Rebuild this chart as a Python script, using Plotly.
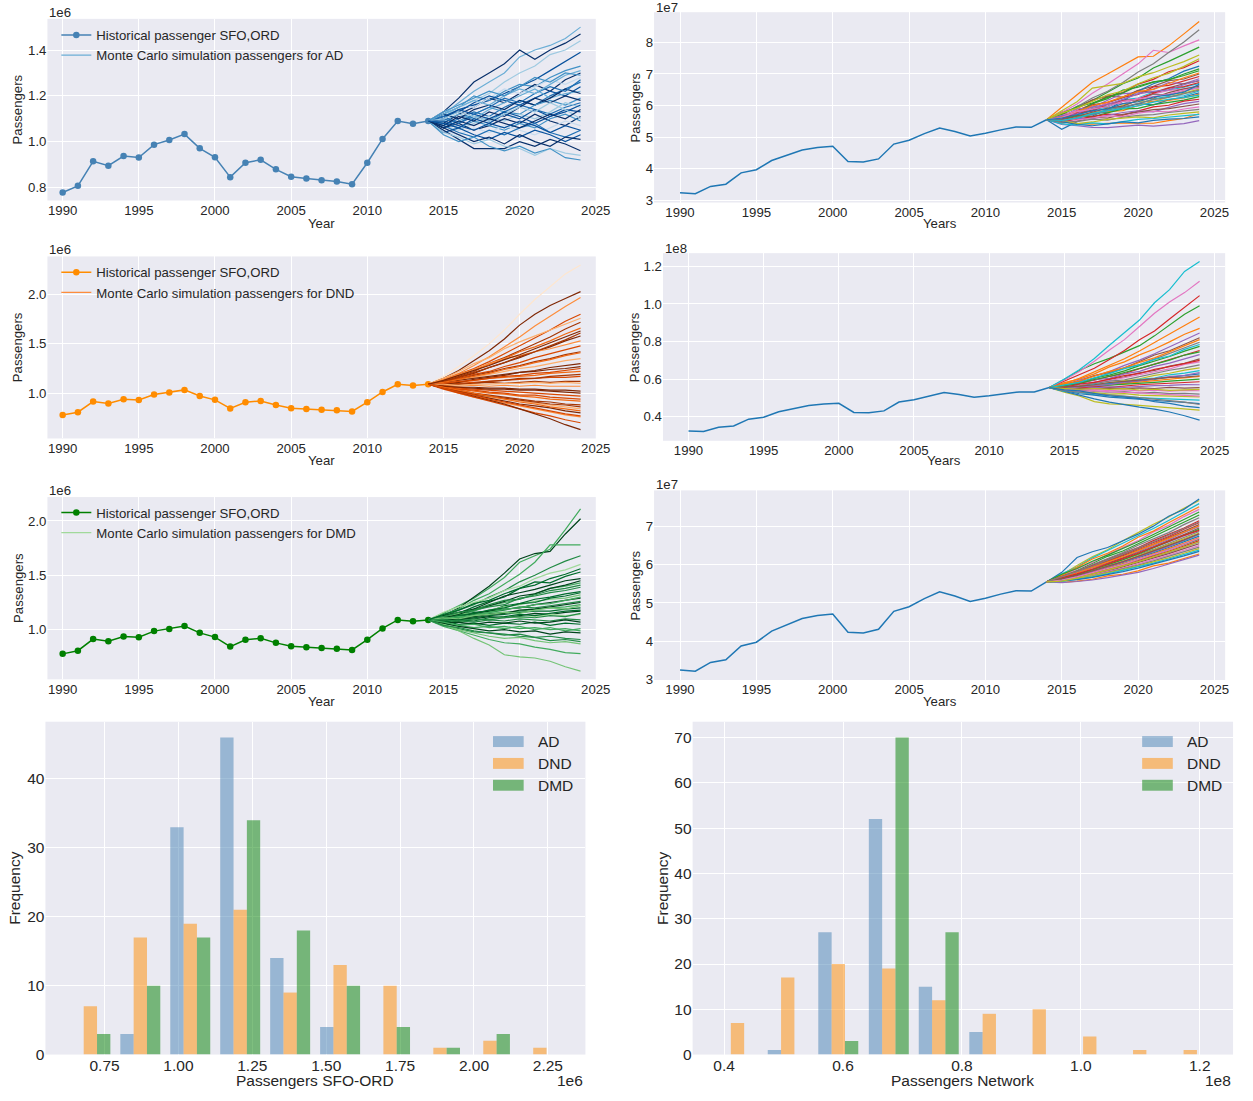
import plotly.graph_objects as go

W, H = 1253, 1101
TXT = "#262626"
FONT = "Liberation Sans, Arial, sans-serif"

# ---------------- data (passengers in millions) ----------------
years_hist = list(range(1990, 2015))
years_sim = list(range(2015, 2025))
year_ticks = [1990, 1995, 2000, 2005, 2010, 2015, 2020, 2025]

sfo_ord_hist = [0.778, 0.807, 0.914, 0.895, 0.937, 0.931, 0.987, 1.007, 1.033, 0.971,
                0.932, 0.845, 0.908, 0.921, 0.879, 0.847, 0.839, 0.832, 0.826, 0.814,
                0.908, 1.012, 1.090, 1.078, 1.090]
network_hist = [32.4, 32.1, 34.4, 35.1, 38.7, 39.7, 42.6, 44.3, 45.9, 46.7,
                47.1, 42.3, 42.1, 43.1, 47.8, 49.0, 51.1, 52.9, 51.8, 50.4,
                51.2, 52.3, 53.2, 53.1, 55.5]

sims_ad_sfo = [
    [1.12, 1.17, 1.22, 1.26, 1.30, 1.37, 1.40, 1.42, 1.45, 1.50],
    [1.13, 1.19, 1.26, 1.30, 1.34, 1.40, 1.36, 1.40, 1.43, 1.47],
    [1.11, 1.15, 1.18, 1.21, 1.26, 1.30, 1.33, 1.38, 1.40, 1.44],
    [1.10, 1.14, 1.16, 1.18, 1.21, 1.24, 1.27, 1.31, 1.35, 1.39],
    [1.12, 1.15, 1.20, 1.18, 1.22, 1.25, 1.24, 1.28, 1.31, 1.33],
    [1.08, 1.12, 1.15, 1.19, 1.17, 1.21, 1.25, 1.22, 1.27, 1.30],
    [1.13, 1.16, 1.15, 1.19, 1.23, 1.21, 1.24, 1.27, 1.25, 1.28],
    [1.07, 1.10, 1.13, 1.11, 1.15, 1.18, 1.16, 1.20, 1.23, 1.26],
    [1.11, 1.13, 1.17, 1.20, 1.18, 1.16, 1.19, 1.22, 1.20, 1.24],
    [1.09, 1.12, 1.10, 1.14, 1.17, 1.20, 1.23, 1.19, 1.21, 1.22],
    [1.12, 1.10, 1.14, 1.16, 1.14, 1.18, 1.16, 1.19, 1.23, 1.21],
    [1.06, 1.09, 1.12, 1.15, 1.13, 1.12, 1.16, 1.18, 1.16, 1.19],
    [1.10, 1.08, 1.11, 1.09, 1.13, 1.16, 1.14, 1.12, 1.15, 1.17],
    [1.07, 1.05, 1.08, 1.11, 1.09, 1.12, 1.10, 1.13, 1.17, 1.15],
    [1.11, 1.14, 1.12, 1.10, 1.13, 1.11, 1.08, 1.11, 1.14, 1.13],
    [1.06, 1.08, 1.05, 1.07, 1.10, 1.08, 1.12, 1.09, 1.07, 1.11],
    [1.08, 1.06, 1.09, 1.07, 1.05, 1.08, 1.06, 1.10, 1.12, 1.09],
    [1.05, 1.03, 1.06, 1.04, 1.07, 1.05, 1.03, 1.06, 1.09, 1.07],
    [1.07, 1.04, 1.02, 1.05, 1.03, 1.06, 1.08, 1.04, 1.02, 1.05],
    [1.04, 1.06, 1.03, 1.01, 1.04, 1.02, 1.05, 1.03, 1.00, 1.03],
    [1.06, 1.03, 1.00, 1.02, 0.99, 1.03, 1.00, 0.98, 1.02, 1.01],
    [1.05, 1.01, 0.97, 0.97, 0.97, 1.00, 0.98, 1.01, 0.99, 0.96],
    [1.04, 1.02, 0.99, 1.01, 0.98, 0.97, 0.94, 0.97, 0.95, 0.94],
    [1.03, 1.00, 1.02, 0.98, 0.96, 0.98, 0.95, 0.97, 0.93, 0.92],
    [1.11, 1.08, 1.12, 1.15, 1.19, 1.17, 1.21, 1.24, 1.22, 1.27],
    [1.07, 1.11, 1.09, 1.13, 1.11, 1.15, 1.19, 1.17, 1.20, 1.18],
    [1.12, 1.15, 1.18, 1.16, 1.20, 1.23, 1.21, 1.25, 1.29, 1.31],
    [1.08, 1.06, 1.10, 1.08, 1.12, 1.10, 1.14, 1.11, 1.13, 1.16],
    [1.10, 1.13, 1.11, 1.09, 1.12, 1.15, 1.13, 1.17, 1.14, 1.10],
    [1.06, 1.09, 1.07, 1.10, 1.08, 1.06, 1.09, 1.12, 1.10, 1.14],
    [1.13, 1.16, 1.19, 1.22, 1.20, 1.24, 1.28, 1.26, 1.30, 1.29],
    [1.09, 1.07, 1.05, 1.08, 1.06, 1.09, 1.07, 1.04, 1.07, 1.05],
]

sims_dnd_sfo = [
    [1.17, 1.27, 1.38, 1.50, 1.64, 1.80, 1.95, 2.08, 2.21, 2.30],
    [1.15, 1.23, 1.33, 1.43, 1.55, 1.69, 1.80, 1.89, 1.96, 2.03],
    [1.14, 1.20, 1.28, 1.37, 1.47, 1.57, 1.68, 1.78, 1.88, 1.97],
    [1.13, 1.19, 1.25, 1.32, 1.40, 1.48, 1.56, 1.64, 1.73, 1.80],
    [1.15, 1.22, 1.30, 1.36, 1.45, 1.52, 1.58, 1.64, 1.70, 1.76],
    [1.12, 1.17, 1.22, 1.30, 1.36, 1.43, 1.50, 1.57, 1.65, 1.72],
    [1.13, 1.18, 1.24, 1.29, 1.35, 1.42, 1.47, 1.53, 1.60, 1.66],
    [1.11, 1.16, 1.20, 1.26, 1.31, 1.36, 1.42, 1.47, 1.53, 1.58],
    [1.14, 1.19, 1.24, 1.30, 1.35, 1.38, 1.42, 1.45, 1.49, 1.53],
    [1.12, 1.15, 1.19, 1.22, 1.27, 1.31, 1.36, 1.40, 1.44, 1.48],
    [1.11, 1.14, 1.18, 1.21, 1.25, 1.28, 1.32, 1.35, 1.39, 1.42],
    [1.10, 1.13, 1.16, 1.19, 1.22, 1.25, 1.27, 1.30, 1.33, 1.35],
    [1.11, 1.13, 1.15, 1.17, 1.19, 1.21, 1.22, 1.24, 1.25, 1.27],
    [1.10, 1.11, 1.13, 1.15, 1.16, 1.17, 1.18, 1.20, 1.21, 1.22],
    [1.08, 1.10, 1.11, 1.12, 1.13, 1.14, 1.15, 1.16, 1.16, 1.17],
    [1.10, 1.09, 1.10, 1.11, 1.10, 1.11, 1.12, 1.11, 1.12, 1.12],
    [1.08, 1.07, 1.08, 1.07, 1.08, 1.07, 1.08, 1.07, 1.07, 1.07],
    [1.07, 1.06, 1.06, 1.05, 1.05, 1.04, 1.04, 1.03, 1.03, 1.02],
    [1.07, 1.05, 1.04, 1.03, 1.02, 1.01, 1.00, 0.99, 0.98, 0.97],
    [1.06, 1.04, 1.02, 1.00, 0.99, 0.97, 0.96, 0.94, 0.93, 0.92],
    [1.06, 1.03, 1.00, 0.98, 0.96, 0.94, 0.92, 0.91, 0.89, 0.88],
    [1.05, 1.02, 0.99, 0.96, 0.94, 0.92, 0.90, 0.88, 0.86, 0.84],
    [1.06, 1.02, 0.98, 0.95, 0.92, 0.89, 0.87, 0.85, 0.82, 0.80],
    [1.05, 1.00, 0.96, 0.93, 0.90, 0.87, 0.84, 0.81, 0.78, 0.76],
    [1.04, 1.00, 0.96, 0.92, 0.88, 0.84, 0.80, 0.77, 0.73, 0.70],
    [1.05, 1.01, 0.97, 0.93, 0.89, 0.84, 0.79, 0.74, 0.68, 0.63],
    [1.12, 1.16, 1.21, 1.26, 1.31, 1.37, 1.42, 1.48, 1.54, 1.61],
    [1.11, 1.14, 1.17, 1.20, 1.24, 1.27, 1.31, 1.34, 1.38, 1.41],
    [1.09, 1.11, 1.14, 1.16, 1.18, 1.21, 1.23, 1.26, 1.28, 1.30],
    [1.10, 1.12, 1.13, 1.15, 1.17, 1.18, 1.20, 1.21, 1.23, 1.25],
    [1.08, 1.09, 1.10, 1.12, 1.13, 1.15, 1.15, 1.17, 1.18, 1.19],
    [1.09, 1.08, 1.09, 1.09, 1.10, 1.10, 1.11, 1.10, 1.11, 1.10],
    [1.07, 1.06, 1.05, 1.04, 1.04, 1.03, 1.03, 1.02, 1.01, 1.00],
    [1.06, 1.04, 1.03, 1.01, 1.00, 0.98, 0.98, 0.96, 0.95, 0.94],
    [1.05, 1.02, 0.99, 0.97, 0.95, 0.93, 0.91, 0.89, 0.88, 0.86],
    [1.06, 1.03, 1.00, 0.97, 0.94, 0.91, 0.89, 0.86, 0.84, 0.82],
    [1.13, 1.18, 1.23, 1.28, 1.34, 1.39, 1.45, 1.51, 1.57, 1.63],
    [1.05, 1.01, 0.98, 0.94, 0.91, 0.88, 0.85, 0.82, 0.79, 0.77],
]

sims_dmd_sfo = [
    [1.15, 1.22, 1.29, 1.38, 1.48, 1.62, 1.68, 1.74, 1.92, 2.11],
    [1.13, 1.20, 1.30, 1.40, 1.52, 1.65, 1.70, 1.72, 1.88, 2.02],
    [1.14, 1.19, 1.27, 1.33, 1.42, 1.51, 1.62, 1.78, 1.78, 1.78],
    [1.12, 1.18, 1.23, 1.30, 1.36, 1.44, 1.50, 1.57, 1.63, 1.68],
    [1.16, 1.21, 1.25, 1.29, 1.36, 1.40, 1.47, 1.52, 1.55, 1.60],
    [1.11, 1.15, 1.21, 1.26, 1.30, 1.38, 1.44, 1.43, 1.49, 1.53],
    [1.13, 1.16, 1.19, 1.25, 1.31, 1.34, 1.37, 1.41, 1.45, 1.47],
    [1.10, 1.14, 1.17, 1.22, 1.25, 1.28, 1.33, 1.38, 1.40, 1.43],
    [1.12, 1.13, 1.18, 1.21, 1.23, 1.29, 1.31, 1.34, 1.36, 1.39],
    [1.09, 1.12, 1.16, 1.17, 1.22, 1.24, 1.28, 1.30, 1.33, 1.35],
    [1.11, 1.15, 1.14, 1.18, 1.21, 1.23, 1.26, 1.28, 1.29, 1.32],
    [1.10, 1.12, 1.15, 1.17, 1.19, 1.20, 1.23, 1.25, 1.27, 1.29],
    [1.12, 1.11, 1.14, 1.16, 1.18, 1.21, 1.20, 1.22, 1.24, 1.26],
    [1.08, 1.11, 1.12, 1.15, 1.16, 1.17, 1.19, 1.20, 1.21, 1.23],
    [1.10, 1.09, 1.11, 1.13, 1.14, 1.16, 1.17, 1.17, 1.19, 1.20],
    [1.07, 1.10, 1.10, 1.12, 1.11, 1.13, 1.15, 1.14, 1.16, 1.17],
    [1.09, 1.07, 1.09, 1.10, 1.12, 1.11, 1.12, 1.14, 1.13, 1.14],
    [1.06, 1.08, 1.07, 1.09, 1.08, 1.10, 1.09, 1.08, 1.10, 1.09],
    [1.08, 1.05, 1.06, 1.04, 1.06, 1.05, 1.07, 1.04, 1.06, 1.05],
    [1.05, 1.04, 1.02, 1.03, 1.01, 1.03, 1.00, 1.02, 0.99, 1.01],
    [1.06, 1.03, 1.01, 0.99, 1.00, 0.98, 0.99, 0.96, 0.98, 0.97],
    [1.04, 1.01, 0.98, 0.97, 0.95, 0.96, 0.93, 0.94, 0.92, 0.91],
    [1.05, 1.00, 0.97, 0.94, 0.92, 0.93, 0.90, 0.88, 0.89, 0.87],
    [1.03, 0.99, 0.95, 0.91, 0.88, 0.87, 0.84, 0.82, 0.79, 0.78],
    [1.05, 0.99, 0.92, 0.86, 0.77, 0.75, 0.74, 0.71, 0.66, 0.62],
    [1.11, 1.14, 1.19, 1.22, 1.26, 1.31, 1.33, 1.38, 1.41, 1.45],
    [1.12, 1.16, 1.18, 1.23, 1.27, 1.28, 1.32, 1.36, 1.38, 1.41],
    [1.09, 1.13, 1.15, 1.18, 1.20, 1.24, 1.25, 1.29, 1.31, 1.34],
    [1.10, 1.12, 1.13, 1.16, 1.19, 1.20, 1.23, 1.24, 1.27, 1.30],
    [1.08, 1.10, 1.12, 1.14, 1.15, 1.18, 1.19, 1.21, 1.23, 1.25],
    [1.11, 1.10, 1.13, 1.14, 1.16, 1.15, 1.18, 1.20, 1.19, 1.22],
    [1.07, 1.09, 1.08, 1.11, 1.12, 1.14, 1.13, 1.15, 1.17, 1.18],
    [1.09, 1.08, 1.10, 1.09, 1.11, 1.12, 1.11, 1.13, 1.12, 1.15],
    [1.06, 1.07, 1.05, 1.07, 1.06, 1.08, 1.06, 1.07, 1.09, 1.07],
    [1.07, 1.04, 1.05, 1.02, 1.03, 1.01, 1.02, 1.00, 1.01, 0.99],
    [1.14, 1.18, 1.24, 1.27, 1.33, 1.38, 1.41, 1.47, 1.51, 1.56],
    [1.04, 1.02, 0.99, 0.97, 0.96, 0.94, 0.93, 0.90, 0.91, 0.89],
]

sims_ad_net = [
    [59.4, 63.5, 67.4, 70.0, 72.8, 75.4, 75.6, 78.9, 82.7, 86.6],
    [57.0, 59.8, 61.6, 64.2, 66.9, 68.7, 71.9, 74.0, 76.2, 78.5],
    [56.2, 58.4, 60.5, 62.9, 64.1, 66.8, 68.3, 70.7, 72.0, 74.2],
    [54.0, 53.6, 53.1, 53.0, 53.4, 53.8, 53.5, 53.9, 54.3, 55.2],
    [57.9, 59.1, 61.8, 63.0, 62.7, 64.8, 66.1, 67.9, 68.4, 70.0],
    [57.8, 60.5, 63.9, 66.8, 70.0, 73.2, 77.5, 76.8, 78.9, 80.8],
    [57.5, 59.6, 62.4, 64.5, 67.3, 70.6, 73.2, 76.8, 80.1, 84.0],
    [58.3, 61.2, 65.5, 66.3, 67.0, 69.1, 70.4, 72.2, 73.9, 76.0],
    [55.0, 56.8, 58.7, 59.5, 61.8, 62.4, 64.3, 64.9, 65.8, 67.0],
    [52.5, 54.9, 56.7, 58.8, 61.4, 64.6, 66.9, 68.5, 70.9, 72.5],
    [54.8, 54.3, 54.1, 54.4, 54.4, 54.3, 54.4, 55.2, 55.9, 57.4],
    [56.8, 57.9, 60.6, 62.2, 64.9, 65.8, 67.4, 68.2, 69.5, 71.0],
    [55.9, 57.5, 58.6, 60.9, 62.6, 63.5, 65.9, 66.4, 67.8, 69.2],
    [56.6, 58.9, 59.4, 61.7, 63.8, 64.0, 65.2, 67.3, 66.9, 68.5],
    [57.2, 57.8, 60.2, 61.0, 62.5, 64.7, 64.1, 65.6, 66.9, 67.8],
    [56.9, 58.3, 58.9, 60.8, 60.5, 62.3, 63.7, 64.8, 65.2, 66.4],
    [56.1, 57.0, 59.1, 59.8, 61.4, 61.9, 63.6, 63.2, 64.5, 65.8],
    [55.3, 56.2, 57.6, 58.4, 60.1, 61.5, 61.2, 62.7, 64.0, 65.2],
    [56.4, 57.3, 57.1, 58.9, 59.6, 60.4, 62.1, 62.9, 63.1, 64.6],
    [54.7, 55.9, 57.4, 57.9, 59.3, 60.6, 60.2, 61.8, 62.7, 64.0],
    [56.0, 56.5, 57.8, 58.1, 58.4, 60.0, 61.3, 61.6, 62.4, 63.6],
    [55.6, 56.9, 56.4, 57.7, 58.9, 59.1, 60.3, 61.0, 61.7, 62.8],
    [54.9, 55.7, 56.6, 57.3, 57.0, 58.4, 59.6, 60.1, 61.4, 62.0],
    [55.2, 56.0, 55.8, 56.9, 57.8, 58.3, 58.0, 59.4, 60.6, 61.3],
    [54.4, 55.1, 56.3, 56.0, 57.2, 57.9, 58.7, 59.0, 59.8, 60.5],
    [55.8, 55.4, 56.0, 56.7, 56.5, 57.6, 58.2, 58.0, 58.9, 59.6],
    [54.6, 54.9, 55.7, 55.4, 56.3, 56.9, 57.1, 57.8, 58.3, 58.8],
    [55.1, 54.3, 54.8, 55.6, 55.9, 56.4, 56.1, 57.0, 57.5, 58.0],
    [54.2, 53.8, 54.5, 54.2, 55.0, 55.6, 55.9, 56.3, 56.8, 57.2],
    [54.9, 54.0, 53.6, 54.2, 54.8, 54.5, 55.3, 55.7, 55.9, 56.4],
    [56.5, 58.0, 59.9, 61.1, 62.8, 64.4, 65.1, 66.9, 68.8, 70.3],
    [57.3, 59.5, 60.8, 62.6, 64.0, 66.2, 67.5, 68.1, 70.0, 71.6],
    [55.7, 57.6, 58.2, 60.4, 61.6, 62.0, 63.9, 65.5, 66.0, 67.3],
    [56.8, 57.4, 59.6, 60.3, 61.9, 63.7, 64.5, 65.0, 66.6, 68.0],
    [55.5, 56.6, 57.9, 59.2, 59.8, 61.7, 62.4, 64.1, 65.3, 66.1],
    [56.2, 58.1, 58.8, 59.7, 61.3, 62.1, 63.0, 63.6, 64.9, 65.5],
    [54.8, 56.3, 57.0, 58.6, 59.5, 60.7, 61.9, 62.6, 63.8, 64.9],
    [57.6, 59.2, 61.3, 63.4, 64.6, 66.9, 68.8, 70.2, 72.4, 74.8],
    [55.3, 56.0, 57.5, 58.3, 59.0, 59.9, 61.1, 62.0, 62.5, 63.3],
    [56.0, 57.1, 58.4, 58.9, 60.6, 61.2, 62.7, 63.4, 64.2, 66.7],
]

sims_dnd_net = [
    [58.1, 60.0, 62.8, 66.5, 69.2, 72.9, 76.0, 79.8, 83.9, 87.0],
    [59.8, 64.6, 68.2, 71.0, 74.5, 77.8, 83.0, 88.6, 94.5, 99.0],
    [58.8, 62.5, 65.8, 70.4, 75.2, 80.9, 85.6, 92.0, 98.3, 104.4],
    [56.9, 59.5, 61.7, 64.0, 67.3, 70.1, 73.5, 77.2, 80.6, 84.5],
    [57.4, 58.8, 61.9, 63.5, 66.0, 69.4, 72.8, 75.1, 78.7, 82.0],
    [59.5, 64.0, 69.5, 75.5, 81.0, 88.0, 95.0, 101.0, 106.0, 112.0],
    [56.2, 58.6, 60.3, 63.2, 65.9, 67.7, 70.6, 73.8, 76.5, 79.6],
    [53.0, 51.0, 48.0, 46.8, 46.6, 46.0, 45.4, 44.9, 44.2, 43.5],
    [60.0, 65.0, 71.0, 78.0, 84.7, 91.4, 100.6, 107.6, 117.3, 122.6],
    [53.5, 51.3, 49.5, 47.8, 46.3, 45.1, 44.0, 42.5, 40.5, 38.2],
    [57.6, 60.4, 63.9, 67.1, 70.8, 75.0, 79.4, 84.1, 88.5, 93.0],
    [57.0, 57.9, 60.6, 62.1, 64.4, 67.2, 69.5, 72.0, 74.9, 77.4],
    [56.0, 58.2, 59.4, 61.5, 63.0, 65.6, 67.9, 70.4, 72.6, 75.2],
    [56.6, 57.3, 59.7, 60.4, 62.8, 64.1, 66.8, 68.5, 70.7, 73.0],
    [55.2, 57.0, 58.1, 59.9, 61.2, 63.3, 64.6, 66.9, 68.4, 70.8],
    [56.4, 56.9, 58.5, 59.2, 60.8, 62.5, 63.9, 65.4, 67.8, 69.2],
    [55.8, 56.4, 57.6, 58.9, 59.6, 61.4, 62.9, 64.7, 66.0, 67.6],
    [54.9, 56.1, 56.8, 58.0, 59.3, 60.2, 62.0, 63.1, 64.8, 66.0],
    [55.9, 55.6, 57.2, 57.8, 58.5, 59.9, 60.6, 62.3, 63.2, 64.5],
    [54.6, 55.8, 56.3, 57.5, 57.9, 59.1, 59.8, 61.0, 61.9, 62.8],
    [56.3, 55.4, 56.6, 56.9, 57.7, 58.4, 59.5, 60.1, 60.8, 61.5],
    [55.0, 56.0, 55.7, 56.8, 57.2, 57.6, 58.3, 58.9, 59.6, 60.0],
    [54.4, 55.2, 56.0, 55.6, 56.5, 57.0, 57.4, 57.9, 58.1, 58.6],
    [55.4, 54.8, 55.5, 55.9, 55.6, 56.2, 56.5, 56.7, 57.1, 57.0],
    [54.2, 54.9, 54.5, 55.2, 54.8, 55.3, 55.0, 55.6, 55.2, 55.5],
    [54.8, 54.0, 54.4, 53.9, 54.2, 53.7, 54.1, 53.6, 54.0, 53.8],
    [53.9, 54.3, 53.4, 53.0, 53.3, 52.6, 52.9, 52.3, 52.4, 52.0],
    [54.5, 53.2, 52.8, 52.0, 52.3, 51.5, 51.2, 51.0, 50.7, 50.5],
    [53.6, 52.9, 51.8, 51.4, 50.6, 50.2, 49.8, 49.5, 49.0, 48.8],
    [54.0, 52.2, 51.5, 50.4, 49.9, 49.2, 48.7, 48.1, 47.6, 47.0],
    [57.2, 59.0, 61.6, 64.1, 66.0, 68.9, 71.3, 74.6, 77.9, 81.0],
    [56.5, 57.6, 59.8, 61.4, 63.5, 65.7, 68.0, 70.1, 72.8, 74.5],
    [55.6, 57.4, 58.3, 60.0, 61.9, 63.0, 65.2, 66.6, 68.3, 70.0],
    [54.9, 55.8, 56.5, 57.1, 58.4, 59.0, 60.3, 61.4, 62.0, 63.5],
    [55.8, 56.3, 57.0, 58.2, 58.8, 59.5, 60.0, 60.9, 61.1, 61.8],
    [54.1, 53.5, 53.9, 53.2, 53.0, 52.7, 52.2, 51.9, 51.5, 51.0],
    [53.8, 53.0, 52.1, 51.6, 50.9, 50.0, 49.1, 48.6, 47.8, 46.5],
    [55.1, 54.6, 55.0, 54.5, 54.9, 54.2, 54.6, 54.0, 54.3, 54.5],
    [56.8, 58.3, 60.7, 62.9, 65.6, 67.6, 70.5, 72.3, 75.8, 78.4],
    [54.3, 53.7, 52.4, 51.0, 50.4, 49.6, 48.0, 47.1, 45.6, 44.8],
]

sims_dmd_net = [
    [55.4, 55.7, 56.2, 57.1, 57.5, 58.4, 59.7, 60.4, 61.5, 62.8],
    [56.8, 58.5, 60.4, 62.2, 63.6, 65.5, 67.2, 69.2, 71.0, 73.0],
    [56.6, 58.1, 59.9, 61.4, 62.9, 64.5, 66.3, 67.9, 69.6, 71.5],
    [55.3, 55.6, 56.0, 56.6, 57.3, 58.0, 59.0, 60.1, 61.2, 62.5],
    [56.4, 57.8, 59.3, 60.7, 62.3, 63.8, 65.4, 67.1, 68.7, 70.5],
    [57.0, 58.9, 60.6, 62.7, 64.6, 66.3, 68.6, 70.3, 72.6, 74.5],
    [57.1, 58.4, 60.0, 61.5, 63.2, 65.1, 66.8, 68.4, 70.5, 72.3],
    [57.4, 59.8, 62.1, 63.9, 66.3, 68.4, 70.6, 72.5, 74.8, 76.8],
    [57.6, 59.4, 61.8, 63.7, 65.6, 67.5, 69.5, 71.6, 73.8, 76.0],
    [58.0, 61.9, 63.4, 64.5, 66.2, 68.0, 70.1, 72.7, 74.5, 77.2],
    [57.2, 59.3, 61.5, 63.0, 64.9, 67.2, 68.8, 71.0, 73.1, 75.2],
    [57.5, 59.0, 60.9, 62.5, 64.2, 66.0, 67.9, 69.8, 71.7, 73.8],
    [56.9, 58.2, 59.5, 61.0, 62.6, 64.2, 65.8, 67.4, 69.3, 71.0],
    [56.7, 57.9, 59.1, 60.5, 61.9, 63.4, 65.0, 66.6, 68.4, 70.0],
    [56.3, 57.5, 58.9, 60.2, 61.7, 63.2, 64.7, 66.2, 67.9, 69.6],
    [56.5, 57.7, 58.8, 60.1, 61.4, 62.9, 64.3, 65.8, 67.5, 69.1],
    [56.2, 57.3, 58.6, 59.8, 61.2, 62.6, 64.0, 65.5, 67.0, 68.7],
    [56.4, 57.4, 58.5, 59.6, 60.9, 62.3, 63.8, 65.2, 66.8, 68.3],
    [56.1, 57.2, 58.3, 59.5, 60.7, 62.0, 63.4, 64.9, 66.3, 67.9],
    [56.3, 57.1, 58.1, 59.3, 60.5, 61.8, 63.1, 64.5, 66.0, 67.5],
    [56.0, 56.9, 58.0, 59.0, 60.3, 61.5, 62.8, 64.2, 65.6, 67.1],
    [56.2, 57.0, 57.8, 58.9, 60.0, 61.3, 62.5, 63.9, 65.3, 66.7],
    [55.9, 56.7, 57.7, 58.7, 59.8, 61.0, 62.2, 63.5, 64.9, 66.3],
    [56.1, 56.8, 57.6, 58.5, 59.6, 60.8, 61.9, 63.2, 64.6, 65.9],
    [55.8, 56.6, 57.4, 58.3, 59.4, 60.5, 61.7, 62.9, 64.2, 65.5],
    [56.0, 56.5, 57.3, 58.2, 59.1, 60.2, 61.3, 62.5, 63.8, 65.0],
    [55.7, 56.4, 57.1, 58.0, 58.9, 59.9, 61.0, 62.2, 63.4, 64.6],
    [55.9, 56.3, 57.0, 57.8, 58.7, 59.7, 60.7, 61.8, 63.0, 64.2],
    [55.6, 56.2, 56.8, 57.6, 58.5, 59.4, 60.4, 61.5, 62.6, 63.8],
    [55.8, 56.1, 56.7, 57.4, 58.2, 59.1, 60.1, 61.2, 62.3, 63.5],
    [56.6, 57.9, 59.3, 60.6, 62.1, 63.7, 65.2, 66.9, 68.5, 70.2],
    [56.2, 57.4, 58.7, 59.9, 61.3, 62.8, 64.4, 66.0, 67.6, 69.3],
    [56.5, 57.6, 58.8, 60.3, 61.6, 63.0, 64.6, 66.1, 67.7, 69.0],
    [55.9, 57.0, 58.2, 59.4, 60.6, 62.0, 63.5, 64.8, 66.4, 68.0],
    [56.3, 57.2, 58.4, 59.5, 60.8, 62.2, 63.6, 65.0, 66.5, 68.1],
    [56.0, 56.8, 57.9, 58.9, 60.1, 61.4, 62.6, 63.9, 65.4, 66.9],
    [56.8, 58.2, 59.6, 61.2, 62.7, 64.4, 66.0, 67.7, 69.4, 71.2],
    [55.7, 56.5, 57.5, 58.6, 59.7, 60.8, 62.0, 63.3, 64.6, 66.0],
]

# histogram of final-year simulated passengers (millions), 10 bins
bin_centers_sfo = [0.702, 0.871, 1.040, 1.209, 1.378, 1.547, 1.716, 1.885, 2.054, 2.223]
counts_sfo_ad = [0, 3, 33, 46, 14, 4, 0, 0, 0, 0]
counts_sfo_dnd = [7, 17, 19, 21, 9, 13, 10, 1, 2, 1]
counts_sfo_dmd = [3, 10, 17, 34, 18, 10, 4, 1, 3, 0]

bin_centers_net = [42.25, 50.7, 59.2, 67.7, 76.1, 84.6, 93.0, 101.5, 109.9, 118.4]
counts_net_ad = [0, 1, 27, 52, 15, 5, 0, 0, 0, 0]
counts_net_dnd = [7, 17, 20, 19, 12, 9, 10, 4, 1, 1]
counts_net_dmd = [0, 0, 3, 70, 27, 0, 0, 0, 0, 0]

methods = ["AD", "DND", "DMD"]

# ---------------- styles ----------------
BLUES = ['#f7fbff', '#deebf7', '#c6dbef', '#9ecae1', '#6baed6', '#4292c6', '#2171b5', '#08519c', '#08306b']
ORANGES = ['#fff5eb', '#fee6ce', '#fdd0a2', '#fdae6b', '#fd8d3c', '#f16913', '#d94801', '#a63603', '#7f2704']
GREENS = ['#f7fcf5', '#e5f5e0', '#c7e9c0', '#a1d99b', '#74c476', '#41ab5d', '#238b45', '#006d2c', '#00441b']
TAB10 = ['#1f77b4', '#ff7f0e', '#2ca02c', '#d62728', '#9467bd', '#8c564b', '#e377c2', '#7f7f7f', '#bcbd22', '#17becf']
ad_shades = [4, 8, 3, 7, 5, 8, 2, 6, 7, 4, 8, 5, 6, 3, 7, 8, 5, 2, 6, 7, 8, 8, 3, 5,
             6, 8, 4, 7, 3, 8, 5, 7]
dnd_shades = [1, 8, 4, 6, 3, 7, 5, 8, 4, 6, 7, 3, 8, 5, 6, 7, 4, 8, 6, 5, 7, 3, 8, 4, 6, 8,
              7, 5, 8, 6, 7, 3, 8, 6, 7, 5, 8, 6]
dmd_shades = [5, 8, 5, 6, 3, 7, 8, 5, 6, 7, 4, 8, 6, 5, 7, 8, 3, 6, 7, 5, 8, 6, 4, 5, 4,
              8, 6, 7, 5, 8, 4, 7, 6, 8, 5, 7, 6]
HIST_COLORS = ['rgba(70,130,180,0.5)', 'rgba(255,140,0,0.5)', 'rgba(0,128,0,0.5)']

fig = go.Figure()


def px_x(p):
    return p / W


def px_y(p):
    return 1 - p / H


def add_left(n, sims, shades, palette, hist_color, method, legend_id, legend_idx):
    fig.add_trace(go.Scatter(
        x=years_hist, y=sfo_ord_hist, mode="lines+markers",
        line=dict(color=hist_color, width=1.5), marker=dict(size=6.5, color=hist_color),
        name="Historical passenger SFO,ORD", legend=legend_id,
        xaxis=f"x{n}", yaxis=f"y{n}"))
    for i, s in enumerate(sims):
        fig.add_trace(go.Scatter(
            x=[years_hist[-1]] + years_sim, y=[sfo_ord_hist[-1]] + s, mode="lines",
            line=dict(color=palette[shades[i]], width=1.2),
            name=f"Monte Carlo simulation passengers for {method}",
            showlegend=(i == legend_idx), legend=legend_id,
            xaxis=f"x{n}", yaxis=f"y{n}"))


def add_right(n, sims, scale):
    fig.add_trace(go.Scatter(
        x=years_hist, y=[v / scale for v in network_hist], mode="lines",
        line=dict(color=TAB10[0], width=1.5), showlegend=False,
        xaxis=f"x{n}", yaxis=f"y{n}"))
    for i, s in enumerate(sims):
        fig.add_trace(go.Scatter(
            x=[years_hist[-1]] + years_sim, y=[v / scale for v in [network_hist[-1]] + s],
            mode="lines", line=dict(color=TAB10[(i + 1) % 10], width=1.2), showlegend=False,
            xaxis=f"x{n}", yaxis=f"y{n}"))


add_left(1, sims_ad_sfo, ad_shades, BLUES, "#4682b4", "AD", "legend", 0)
add_right(2, sims_ad_net, 10)
add_left(3, sims_dnd_sfo, dnd_shades, ORANGES, "#ff8c00", "DND", "legend2", 2)
add_right(4, sims_dnd_net, 100)
add_left(5, sims_dmd_sfo, dmd_shades, GREENS, "#008000", "DMD", "legend3", 4)
add_right(6, sims_dmd_net, 10)

for k, counts in enumerate([counts_sfo_ad, counts_sfo_dnd, counts_sfo_dmd]):
    fig.add_trace(go.Bar(x=bin_centers_sfo, y=counts, name=methods[k],
                         marker=dict(color=HIST_COLORS[k], line=dict(width=0)),
                         showlegend=False, xaxis="x7", yaxis="y7"))
for k, counts in enumerate([counts_net_ad, counts_net_dnd, counts_net_dmd]):
    fig.add_trace(go.Bar(x=[c / 100 for c in bin_centers_net], y=counts, name=methods[k],
                         marker=dict(color=HIST_COLORS[k], line=dict(width=0)),
                         showlegend=False, xaxis="x8", yaxis="y8"))

# ---------------- axes ----------------
panels = {
    1: dict(x=(48, 603), y=(19, 202), xr=[1989, 2025], yr=[0.743, 1.536],
            xt=year_ticks, yt=[0.8, 1.0, 1.2, 1.4], yf=".1f", xf="d", fs=13.2),
    2: dict(x=(662, 1240), y=(12.3, 204), xr=[1988.3, 2025.7], yr=[2.93, 8.955],
            xt=year_ticks, yt=[3, 4, 5, 6, 7, 8], yf="d", xf="d", fs=13.2),
    3: dict(x=(48, 603), y=(258.3, 441.7), xr=[1989, 2025], yr=[0.54, 2.387],
            xt=year_ticks, yt=[1.0, 1.5, 2.0], yf=".1f", xf="d", fs=13.2),
    4: dict(x=(671, 1240), y=(255, 444), xr=[1988.3, 2025.7], yr=[0.272, 1.27],
            xt=year_ticks, yt=[0.4, 0.6, 0.8, 1.0, 1.2], yf=".1f", xf="d", fs=13.2),
    5: dict(x=(48, 603), y=(500.7, 684.3), xr=[1989, 2025], yr=[0.544, 2.219],
            xt=year_ticks, yt=[1.0, 1.5, 2.0], yf=".1f", xf="d", fs=13.2),
    6: dict(x=(662, 1240), y=(494, 685), xr=[1988.3, 2025.7], yr=[2.98, 7.946],
            xt=year_ticks, yt=[3, 4, 5, 6, 7], yf="d", xf="d", fs=13.2),
    7: dict(x=(46, 592.5), y=(727, 1062.3), xr=[0.55, 2.377], yr=[0, 48.3],
            xt=[0.75, 1.0, 1.25, 1.5, 1.75, 2.0, 2.25], yt=[0, 10, 20, 30, 40],
            yf="d", xf=".2f", fs=15.5),
    8: dict(x=(701, 1248), y=(727, 1062.3), xr=[0.347, 1.256], yr=[0, 73.5],
            xt=[0.4, 0.6, 0.8, 1.0, 1.2], yt=[0, 10, 20, 30, 40, 50, 60, 70],
            yf="d", xf=".1f", fs=15.5),
}

layout = dict(
    width=W, height=H, margin=dict(l=0, r=0, t=0, b=0),
    paper_bgcolor="white", plot_bgcolor="#EAEAF2",
    font=dict(family=FONT, color=TXT, size=13.2),
    barmode="group", bargap=0.2, bargroupgap=0,
)

for n, p in panels.items():
    common = dict(showgrid=True, gridcolor="white", gridwidth=1.2, zeroline=False,
                  showline=False, ticks="", tickfont=dict(size=p["fs"], color=TXT, family=FONT))
    layout[f"xaxis{n}"] = dict(domain=[px_x(p["x"][0]), px_x(p["x"][1])], range=p["xr"],
                               anchor=f"y{n}", tickvals=p["xt"], tickformat=p["xf"], **common)
    layout[f"yaxis{n}"] = dict(domain=[px_y(p["y"][1]), px_y(p["y"][0])], range=p["yr"],
                               anchor=f"x{n}", tickvals=p["yt"], tickformat=p["yf"], **common)

# legends for the line panels
for lid, top in [("legend", 20), ("legend2", 259), ("legend3", 501)]:
    layout[lid] = dict(x=px_x(57), y=px_y(top), xanchor="left", yanchor="top",
                       bgcolor="rgba(0,0,0,0)", font=dict(size=13.2, color=TXT, family=FONT),
                       itemwidth=30, tracegroupgap=0)

fig.update_layout(**layout)

# ---------------- annotations ----------------
anns = []
shapes = []


def ann(text, x, y, size, xanchor="center", yanchor="middle", angle=0):
    anns.append(dict(text=text, x=px_x(x), y=px_y(y), xref="paper", yref="paper",
                     showarrow=False, font=dict(size=size, color=TXT, family=FONT),
                     xanchor=xanchor, yanchor=yanchor, textangle=angle))


for (xl, yy, t) in [(48, 13, "1e6"), (48, 251, "1e6"), (48, 494.5, "1e6"),
                    (662, 7.5, "1e7"), (671, 250, "1e8"), (662, 488, "1e7")]:
    ann(t, xl, yy, 13.2, xanchor="left")
for yc in [110.5, 350, 592.5]:
    ann("Passengers", 18, yc, 13.2, angle=-90)
for yc in [108, 349.5, 589.5]:
    ann("Passengers", 643, yc, 13.2, angle=-90)
for yy in [225, 464, 706.5]:
    ann("Year", 325.5, yy, 13.2)
ann("Years", 951, 225.5, 13.2)
ann("Years", 955.5, 464.3, 13.2)
ann("Years", 951, 706.5, 13.2)
ann("Passengers SFO-ORD", 319, 1088, 15.5)
ann("Passengers Network", 974.5, 1088, 15.5)
ann("1e6", 592.5, 1088, 15.5, xanchor="right")
ann("1e8", 1248, 1088, 15.5, xanchor="right")
ann("Frequency", 14, 894.5, 15.5, angle=-90)
ann("Frequency", 670, 894.5, 15.5, angle=-90)

# histogram legends (patch + label)
for (px0, tx) in [(499, 542), (1156, 1199)]:
    for k, m in enumerate(methods):
        yc = 747 + 22 * k
        shapes.append(dict(type="rect", xref="paper", yref="paper",
                           x0=px_x(px0), x1=px_x(px0 + 31), y0=px_y(yc + 5.5), y1=px_y(yc - 5.5),
                           fillcolor=HIST_COLORS[k], line=dict(width=0)))
        ann(m, tx, yc, 15.5, xanchor="left")

fig.update_layout(annotations=anns, shapes=shapes)

page_fix = (
    "var h=document.documentElement, b=document.body;"
    "[h, b].forEach(function(e){e.style.margin='0'; e.style.padding='0';"
    "e.style.overflow='hidden'; e.style.width='1253px'; e.style.height='1101px';});"
    "var d=document.getElementById('{plot_id}');"
    "if(d){d.style.position='fixed'; d.style.left='0px'; d.style.top='0px';}"
)

fig.write_html("out.html", config={"displayModeBar": False}, post_script=page_fix)
